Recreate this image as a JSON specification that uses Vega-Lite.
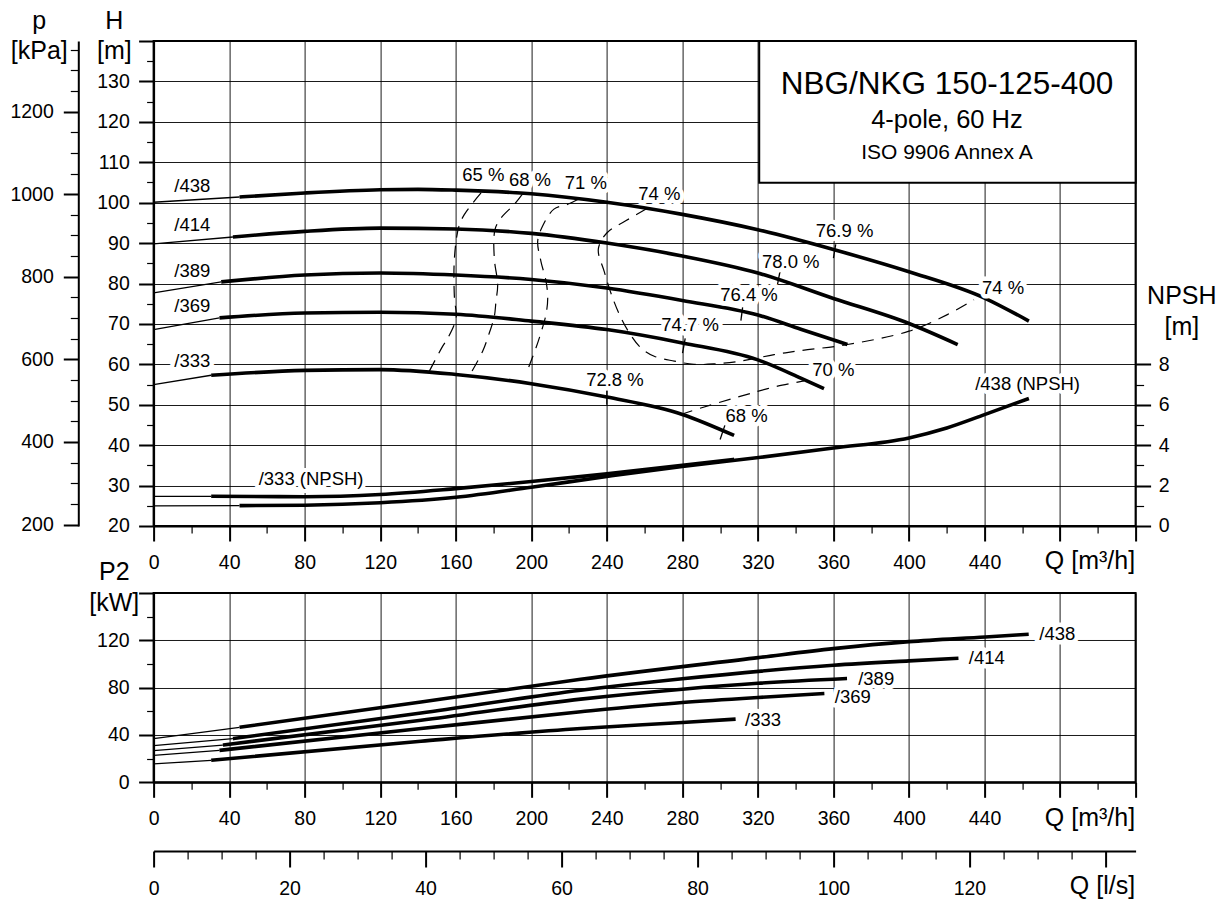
{
  "$schema": "https://vega.github.io/schema/vega-lite/v6.json",
  "background": "white",
  "padding": {"left": 8.6, "top": 7, "right": 5, "bottom": 2},
  "bounds": "flush",
  "spacing": 67,
  "config": {
    "font": "Liberation Sans",
    "view": {"stroke": "black", "strokeWidth": 2},
    "axis": {
      "labelFont": "Liberation Sans", "labelFontSize": 19.5, "labelColor": "black",
      "titleFont": "Liberation Sans", "titleFontSize": 25, "titleFontWeight": "normal", "titleColor": "black",
      "domainColor": "black", "domainWidth": 2, "tickColor": "black", "gridColor": "#000", "gridWidth": 1,
      "labelFlush": false, "labelOverlap": false, "labelBound": false
    },
    "text": {"font": "Liberation Sans", "fontSize": 18.5, "color": "black"}
  },
  "datasets": {
    "hq": [
      {"c": "438", "s": "thin", "Q": 0, "H": 100.1}, {"c": "438", "s": "thin", "Q": 45.5, "H": 101.4},
      {"c": "438", "s": "thick", "Q": 45.5, "H": 101.4}, {"c": "438", "s": "thick", "Q": 80, "H": 102.4}, {"c": "438", "s": "thick", "Q": 120, "H": 103.2}, {"c": "438", "s": "thick", "Q": 140, "H": 103.3}, {"c": "438", "s": "thick", "Q": 160, "H": 103.1}, {"c": "438", "s": "thick", "Q": 200, "H": 102.2}, {"c": "438", "s": "thick", "Q": 240, "H": 100.1}, {"c": "438", "s": "thick", "Q": 280, "H": 97.1}, {"c": "438", "s": "thick", "Q": 320, "H": 93.3}, {"c": "438", "s": "thick", "Q": 360, "H": 88.4}, {"c": "438", "s": "thick", "Q": 400, "H": 82.9}, {"c": "438", "s": "thick", "Q": 440, "H": 76.4}, {"c": "438", "s": "thick", "Q": 463.5, "H": 70.7},
      {"c": "414", "s": "thin", "Q": 0, "H": 89.8}, {"c": "414", "s": "thin", "Q": 42, "H": 91.5},
      {"c": "414", "s": "thick", "Q": 42, "H": 91.5}, {"c": "414", "s": "thick", "Q": 80, "H": 92.9}, {"c": "414", "s": "thick", "Q": 120, "H": 93.7}, {"c": "414", "s": "thick", "Q": 160, "H": 93.5}, {"c": "414", "s": "thick", "Q": 200, "H": 92.4}, {"c": "414", "s": "thick", "Q": 240, "H": 90.0}, {"c": "414", "s": "thick", "Q": 280, "H": 86.8}, {"c": "414", "s": "thick", "Q": 320, "H": 82.6}, {"c": "414", "s": "thick", "Q": 360, "H": 76.3}, {"c": "414", "s": "thick", "Q": 400, "H": 70.1}, {"c": "414", "s": "thick", "Q": 425.8, "H": 64.9},
      {"c": "389", "s": "thin", "Q": 0, "H": 77.7}, {"c": "389", "s": "thin", "Q": 35.8, "H": 80.4},
      {"c": "389", "s": "thick", "Q": 35.8, "H": 80.4}, {"c": "389", "s": "thick", "Q": 80, "H": 82.1}, {"c": "389", "s": "thick", "Q": 120, "H": 82.6}, {"c": "389", "s": "thick", "Q": 160, "H": 82.1}, {"c": "389", "s": "thick", "Q": 200, "H": 81.0}, {"c": "389", "s": "thick", "Q": 240, "H": 78.9}, {"c": "389", "s": "thick", "Q": 280, "H": 75.8}, {"c": "389", "s": "thick", "Q": 320, "H": 72.2}, {"c": "389", "s": "thick", "Q": 342.7, "H": 68.7}, {"c": "389", "s": "thick", "Q": 367.4, "H": 64.9},
      {"c": "369", "s": "thin", "Q": 0, "H": 68.6}, {"c": "369", "s": "thin", "Q": 34.9, "H": 71.5},
      {"c": "369", "s": "thick", "Q": 34.9, "H": 71.5}, {"c": "369", "s": "thick", "Q": 80, "H": 72.7}, {"c": "369", "s": "thick", "Q": 120, "H": 72.9}, {"c": "369", "s": "thick", "Q": 160, "H": 72.4}, {"c": "369", "s": "thick", "Q": 200, "H": 70.7}, {"c": "369", "s": "thick", "Q": 240, "H": 68.6}, {"c": "369", "s": "thick", "Q": 280, "H": 65.3}, {"c": "369", "s": "thick", "Q": 320, "H": 61.1}, {"c": "369", "s": "thick", "Q": 342.7, "H": 56.6}, {"c": "369", "s": "thick", "Q": 355, "H": 54.0},
      {"c": "333", "s": "thin", "Q": 0, "H": 55.0}, {"c": "333", "s": "thin", "Q": 30.5, "H": 57.3},
      {"c": "333", "s": "thick", "Q": 30.5, "H": 57.3}, {"c": "333", "s": "thick", "Q": 80, "H": 58.5}, {"c": "333", "s": "thick", "Q": 120, "H": 58.7}, {"c": "333", "s": "thick", "Q": 160, "H": 57.5}, {"c": "333", "s": "thick", "Q": 200, "H": 55.2}, {"c": "333", "s": "thick", "Q": 240, "H": 51.9}, {"c": "333", "s": "thick", "Q": 280, "H": 47.6}, {"c": "333", "s": "thick", "Q": 307.4, "H": 42.4}
    ],
    "eff": [
      {"e": "65", "i": 1, "Q": 173.4, "H": 102.4}, {"e": "65", "i": 2, "Q": 169.0, "H": 99.9}, {"e": "65", "i": 3, "Q": 164.6, "H": 97.1}, {"e": "65", "i": 4, "Q": 161.7, "H": 94.2}, {"e": "65", "i": 5, "Q": 159.3, "H": 86.3}, {"e": "65", "i": 6, "Q": 159.3, "H": 76.4}, {"e": "65", "i": 7, "Q": 160.2, "H": 71.5}, {"e": "65", "i": 8, "Q": 155.8, "H": 66.5}, {"e": "65", "i": 9, "Q": 153.1, "H": 64.5}, {"e": "65", "i": 10, "Q": 146.0, "H": 58.3},
      {"e": "68", "i": 1, "Q": 195.4, "H": 102.2}, {"e": "68", "i": 2, "Q": 191.0, "H": 99.6}, {"e": "68", "i": 3, "Q": 184.0, "H": 96.2}, {"e": "68", "i": 4, "Q": 180.8, "H": 93.4}, {"e": "68", "i": 5, "Q": 180.4, "H": 86.3}, {"e": "68", "i": 6, "Q": 182.2, "H": 79.7}, {"e": "68", "i": 7, "Q": 181.3, "H": 75.6}, {"e": "68", "i": 8, "Q": 180.4, "H": 71.8}, {"e": "68", "i": 9, "Q": 177.8, "H": 67.8}, {"e": "68", "i": 10, "Q": 174.3, "H": 63.3}, {"e": "68", "i": 11, "Q": 168.1, "H": 57.9},
      {"e": "71", "i": 1, "Q": 224.6, "H": 100.8}, {"e": "71", "i": 2, "Q": 219.3, "H": 99.6}, {"e": "71", "i": 3, "Q": 212.0, "H": 98.4}, {"e": "71", "i": 4, "Q": 206.0, "H": 94.2}, {"e": "71", "i": 5, "Q": 203.4, "H": 90.5}, {"e": "71", "i": 6, "Q": 205.1, "H": 85.5}, {"e": "71", "i": 7, "Q": 207.8, "H": 80.6}, {"e": "71", "i": 8, "Q": 208.7, "H": 76.4}, {"e": "71", "i": 9, "Q": 207.8, "H": 72.4}, {"e": "71", "i": 10, "Q": 205.1, "H": 67.8}, {"e": "71", "i": 11, "Q": 202.5, "H": 64.1}, {"e": "71", "i": 12, "Q": 198.1, "H": 58.7},
      {"e": "74", "i": 1, "Q": 261.0, "H": 98.5}, {"e": "74", "i": 2, "Q": 250.0, "H": 95.5}, {"e": "74", "i": 3, "Q": 240.0, "H": 92.5}, {"e": "74", "i": 4, "Q": 235.5, "H": 88.5}, {"e": "74", "i": 5, "Q": 238.6, "H": 83.0}, {"e": "74", "i": 6, "Q": 243.1, "H": 76.4}, {"e": "74", "i": 7, "Q": 247.5, "H": 71.5}, {"e": "74", "i": 8, "Q": 251.9, "H": 67.8}, {"e": "74", "i": 9, "Q": 258.0, "H": 64.1}, {"e": "74", "i": 10, "Q": 265.1, "H": 62.0}, {"e": "74", "i": 11, "Q": 275.7, "H": 60.8}, {"e": "74", "i": 12, "Q": 286.2, "H": 60.0}, {"e": "74", "i": 13, "Q": 296.8, "H": 60.1}, {"e": "74", "i": 14, "Q": 310.9, "H": 60.8}, {"e": "74", "i": 15, "Q": 328.6, "H": 62.4}, {"e": "74", "i": 16, "Q": 342.7, "H": 63.4}, {"e": "74", "i": 17, "Q": 367.4, "H": 64.9}, {"e": "74", "i": 18, "Q": 400.0, "H": 68.2}, {"e": "74", "i": 19, "Q": 420.3, "H": 72.3}, {"e": "74", "i": 20, "Q": 434.4, "H": 76.0},
      {"e": "70", "i": 1, "Q": 279.2, "H": 47.6}, {"e": "70", "i": 2, "Q": 289.8, "H": 49.2}, {"e": "70", "i": 3, "Q": 305.7, "H": 51.4}, {"e": "70", "i": 4, "Q": 319.8, "H": 53.3}, {"e": "70", "i": 5, "Q": 330.4, "H": 54.6}, {"e": "70", "i": 6, "Q": 344.4, "H": 55.9}
    ],
    "tick": [
      {"b": "72.8", "i": 1, "Q": 240.0, "H": 53.6}, {"b": "72.8", "i": 2, "Q": 240.0, "H": 50.0},
      {"b": "74.7", "i": 1, "Q": 281.5, "H": 66.4}, {"b": "74.7", "i": 2, "Q": 280.1, "H": 62.8},
      {"b": "76.4", "i": 1, "Q": 311.9, "H": 74.1}, {"b": "76.4", "i": 2, "Q": 311.0, "H": 70.8},
      {"b": "78.0", "i": 1, "Q": 331.7, "H": 83.0}, {"b": "78.0", "i": 2, "Q": 330.4, "H": 79.8},
      {"b": "76.9", "i": 1, "Q": 361.2, "H": 89.7}, {"b": "76.9", "i": 2, "Q": 360.0, "H": 86.3},
      {"b": "68", "i": 1, "Q": 302.5, "H": 44.9}, {"b": "68", "i": 2, "Q": 300.0, "H": 41.4}
    ],
    "effLab": [
      {"t": "65 %", "Q": 174.6, "H": 106.8}, {"t": "68 %", "Q": 199.3, "H": 105.7}, {"t": "71 %", "Q": 228.9, "H": 104.9}, {"t": "74 %", "Q": 267.8, "H": 102.2},
      {"t": "76.9 %", "Q": 365.9, "H": 92.9}, {"t": "78.0 %", "Q": 337.4, "H": 85.3}, {"t": "76.4 %", "Q": 315.3, "H": 77.1}, {"t": "74.7 %", "Q": 284.1, "H": 69.7},
      {"t": "72.8 %", "Q": 244.3, "H": 56.2}, {"t": "68 %", "Q": 314.0, "H": 47.2}, {"t": "70 %", "Q": 359.9, "H": 58.5}, {"t": "74 %", "Q": 449.8, "H": 78.9}
    ],
    "curveLab": [
      {"t": "/438", "Q": 11, "H": 104.1}, {"t": "/414", "Q": 11, "H": 94.4}, {"t": "/389", "Q": 11, "H": 83.2}, {"t": "/369", "Q": 11, "H": 74.4}, {"t": "/333", "Q": 11, "H": 60.9}
    ],
    "npsh": [
      {"c": "333", "s": "thin", "Q": 0, "N": 1.47}, {"c": "333", "s": "thin", "Q": 30.5, "N": 1.47},
      {"c": "333", "s": "thick", "Q": 30.5, "N": 1.47}, {"c": "333", "s": "thick", "Q": 80, "N": 1.45}, {"c": "333", "s": "thick", "Q": 120, "N": 1.56}, {"c": "333", "s": "thick", "Q": 160, "N": 1.85}, {"c": "333", "s": "thick", "Q": 200, "N": 2.2}, {"c": "333", "s": "thick", "Q": 240, "N": 2.58}, {"c": "333", "s": "thick", "Q": 280, "N": 3.0}, {"c": "333", "s": "thick", "Q": 307.4, "N": 3.3},
      {"c": "438", "s": "thin", "Q": 0, "N": 1.0}, {"c": "438", "s": "thin", "Q": 45.5, "N": 1.01},
      {"c": "438", "s": "thick", "Q": 45.5, "N": 1.01}, {"c": "438", "s": "thick", "Q": 80, "N": 1.03}, {"c": "438", "s": "thick", "Q": 120, "N": 1.15}, {"c": "438", "s": "thick", "Q": 160, "N": 1.42}, {"c": "438", "s": "thick", "Q": 200, "N": 1.92}, {"c": "438", "s": "thick", "Q": 240, "N": 2.45}, {"c": "438", "s": "thick", "Q": 280, "N": 2.95}, {"c": "438", "s": "thick", "Q": 321.5, "N": 3.40}, {"c": "438", "s": "thick", "Q": 360, "N": 3.86}, {"c": "438", "s": "thick", "Q": 400, "N": 4.36}, {"c": "438", "s": "thick", "Q": 420, "N": 4.85}, {"c": "438", "s": "thick", "Q": 440, "N": 5.51}, {"c": "438", "s": "thick", "Q": 463.5, "N": 6.31}
    ],
    "npshLab": [
      {"t": "/333 (NPSH)", "Q": 83.4, "N": 2.32}, {"t": "/438 (NPSH)", "Q": 462.8, "N": 7.01}
    ],
    "p2": [
      {"c": "438", "s": "thin", "Q": 0, "P": 36.9}, {"c": "438", "s": "thin", "Q": 45.5, "P": 46.5},
      {"c": "438", "s": "thick", "Q": 45.5, "P": 46.5}, {"c": "438", "s": "thick", "Q": 141.6, "P": 67.9}, {"c": "438", "s": "thick", "Q": 226.2, "P": 87.1}, {"c": "438", "s": "thick", "Q": 320.2, "P": 105.4}, {"c": "438", "s": "thick", "Q": 360, "P": 113.0}, {"c": "438", "s": "thick", "Q": 400, "P": 118.9}, {"c": "438", "s": "thick", "Q": 440.4, "P": 122.8}, {"c": "438", "s": "thick", "Q": 463.4, "P": 125.1},
      {"c": "414", "s": "thin", "Q": 0, "P": 31.0}, {"c": "414", "s": "thin", "Q": 42, "P": 36.9},
      {"c": "414", "s": "thick", "Q": 42, "P": 36.9}, {"c": "414", "s": "thick", "Q": 141.6, "P": 58.6}, {"c": "414", "s": "thick", "Q": 226.2, "P": 77.8}, {"c": "414", "s": "thick", "Q": 280, "P": 87.5}, {"c": "414", "s": "thick", "Q": 360, "P": 98.9}, {"c": "414", "s": "thick", "Q": 400, "P": 102.6}, {"c": "414", "s": "thick", "Q": 426.2, "P": 104.8},
      {"c": "389", "s": "thin", "Q": 0, "P": 26.8}, {"c": "389", "s": "thin", "Q": 36.7, "P": 31.5},
      {"c": "389", "s": "thick", "Q": 36.7, "P": 31.5}, {"c": "389", "s": "thick", "Q": 141.6, "P": 52.4}, {"c": "389", "s": "thick", "Q": 226.2, "P": 70.3}, {"c": "389", "s": "thick", "Q": 280, "P": 78.7}, {"c": "389", "s": "thick", "Q": 320, "P": 83.7}, {"c": "389", "s": "thick", "Q": 367.2, "P": 87.7},
      {"c": "369", "s": "thin", "Q": 0, "P": 22.8}, {"c": "369", "s": "thin", "Q": 34.9, "P": 27.0},
      {"c": "369", "s": "thick", "Q": 34.9, "P": 27.0}, {"c": "369", "s": "thick", "Q": 141.6, "P": 45.4}, {"c": "369", "s": "thick", "Q": 226.2, "P": 59.6}, {"c": "369", "s": "thick", "Q": 280, "P": 67.4}, {"c": "369", "s": "thick", "Q": 320, "P": 71.7}, {"c": "369", "s": "thick", "Q": 355.2, "P": 75.0},
      {"c": "333", "s": "thin", "Q": 0, "P": 15.5}, {"c": "333", "s": "thin", "Q": 30.5, "P": 18.6},
      {"c": "333", "s": "thick", "Q": 30.5, "P": 18.6}, {"c": "333", "s": "thick", "Q": 141.6, "P": 34.7}, {"c": "333", "s": "thick", "Q": 226.2, "P": 45.5}, {"c": "333", "s": "thick", "Q": 280, "P": 50.6}, {"c": "333", "s": "thick", "Q": 308.2, "P": 53.4}
    ],
    "p2Lab": [
      {"t": "/438", "Q": 469.0, "P": 125.1}, {"t": "/414", "Q": 431.7, "P": 104.8}, {"t": "/389", "Q": 373.1, "P": 87.7}, {"t": "/369", "Q": 360.7, "P": 72.2}, {"t": "/333", "Q": 313.2, "P": 52.8}
    ]
  },
  "vconcat": [
    {
      "width": 982,
      "height": 485,
      "resolve": {"scale": {"x": "independent", "y": "independent"}},
      "layer": [
        {
          "data": {"values": [{}]},
          "mark": {"type": "rect", "fill": "white", "stroke": "black", "strokeWidth": 2},
          "encoding": {
            "x": {"datum": 320.7, "type": "quantitative", "scale": {"domain": [0, 520], "nice": false, "zero": false}, "axis": null},
            "x2": {"datum": 520},
            "y": {"datum": 104.9, "type": "quantitative", "scale": {"domain": [20, 140], "nice": false, "zero": false}, "axis": null},
            "y2": {"datum": 140}
          }
        },
        {
          "data": {"name": "eff"},
          "mark": {"type": "line", "strokeDash": [12, 8], "strokeWidth": 1.2, "interpolate": "catmull-rom", "color": "black"},
          "encoding": {
            "x": {"field": "Q", "type": "quantitative", "scale": {"domain": [0, 520], "nice": false, "zero": false}, "axis": null},
            "y": {"field": "H", "type": "quantitative", "scale": {"domain": [20, 140], "nice": false, "zero": false}, "axis": null},
            "detail": {"field": "e", "type": "nominal"},
            "order": {"field": "i", "type": "quantitative"}
          }
        },
        {
          "data": {"name": "tick"},
          "mark": {"type": "line", "strokeWidth": 1.3, "color": "black"},
          "encoding": {
            "x": {"field": "Q", "type": "quantitative", "scale": {"domain": [0, 520], "nice": false, "zero": false}, "axis": null},
            "y": {"field": "H", "type": "quantitative", "scale": {"domain": [20, 140], "nice": false, "zero": false}, "axis": null},
            "detail": {"field": "b", "type": "nominal"},
            "order": {"field": "i", "type": "quantitative"}
          }
        },
        {
          "data": {"name": "hq"},
          "mark": {"type": "line", "interpolate": "monotone", "color": "black"},
          "encoding": {
            "x": {
              "field": "Q", "type": "quantitative",
              "scale": {"domain": [0, 520], "nice": false, "zero": false},
              "axis": {
                "orient": "bottom",
                "values": [0,20,40,60,80,100,120,140,160,180,200,220,240,260,280,300,320,340,360,380,400,420,440,460,480,500,520],
                "labelExpr": "datum.value % 40 == 0 && datum.value <= 440 ? datum.label : ''",
                "tickSize": {"condition": {"test": "datum.value % 40 != 0", "value": 7}, "value": 15},
                "tickWidth": {"condition": {"test": "datum.value % 40 != 0", "value": 1.2}, "value": 2},
                "grid": true,
                "gridOpacity": {"condition": {"test": "datum.value % 40 != 0", "value": 0}, "value": 0.9},
                "labelPadding": 12.5,
                "title": "Q [m³/h]", "titleAngle": 0, "titleAlign": "right", "titleBaseline": "alphabetic", "titleX": 981, "titleY": 43
              }
            },
            "y": {
              "field": "H", "type": "quantitative",
              "scale": {"domain": [20, 140], "nice": false, "zero": false},
              "axis": {
                "orient": "left",
                "values": [20,25,30,35,40,45,50,55,60,65,70,75,80,85,90,95,100,105,110,115,120,125,130,135,140],
                "labelExpr": "datum.value % 10 == 0 && datum.value < 140 ? datum.label : ''",
                "tickSize": {"condition": {"test": "datum.value % 10 != 0", "value": 7}, "value": 15},
                "tickWidth": {"condition": {"test": "datum.value % 10 != 0", "value": 1.2}, "value": 2},
                "grid": true,
                "gridOpacity": {"condition": {"test": "datum.value % 10 != 0", "value": 0}, "value": 0.9},
                "labelPadding": 9.3,
                "title": ["H", "[m]"], "titleAngle": 0, "titleAlign": "center", "titleBaseline": "alphabetic",
                "titleX": -39.8, "titleY": -12.7, "titleLineHeight": 30
              }
            },
            "detail": {"field": "c", "type": "nominal"},
            "strokeWidth": {"field": "s", "type": "ordinal", "scale": {"domain": ["thin", "thick"], "range": [1.3, 3.6]}, "legend": null}
          }
        },
        {
          "data": {"name": "effLab"},
          "mark": {"type": "text", "fill": "white", "stroke": "white", "strokeWidth": 9, "strokeJoin": "round", "fontSize": 18.5},
          "encoding": {
            "x": {"field": "Q", "type": "quantitative", "scale": {"domain": [0, 520], "nice": false, "zero": false}, "axis": null},
            "y": {"field": "H", "type": "quantitative", "scale": {"domain": [20, 140], "nice": false, "zero": false}, "axis": null},
            "text": {"field": "t"}
          }
        },
        {
          "data": {"name": "effLab"},
          "mark": {"type": "text", "fill": "black", "fontSize": 18.5},
          "encoding": {
            "x": {"field": "Q", "type": "quantitative", "scale": {"domain": [0, 520], "nice": false, "zero": false}, "axis": null},
            "y": {"field": "H", "type": "quantitative", "scale": {"domain": [20, 140], "nice": false, "zero": false}, "axis": null},
            "text": {"field": "t"}
          }
        },
        {
          "data": {"name": "curveLab"},
          "mark": {"type": "text", "fill": "white", "stroke": "white", "strokeWidth": 9, "strokeJoin": "round", "fontSize": 18.5, "align": "left"},
          "encoding": {
            "x": {"field": "Q", "type": "quantitative", "scale": {"domain": [0, 520], "nice": false, "zero": false}, "axis": null},
            "y": {"field": "H", "type": "quantitative", "scale": {"domain": [20, 140], "nice": false, "zero": false}, "axis": null},
            "text": {"field": "t"}
          }
        },
        {
          "data": {"name": "curveLab"},
          "mark": {"type": "text", "fill": "black", "fontSize": 18.5, "align": "left"},
          "encoding": {
            "x": {"field": "Q", "type": "quantitative", "scale": {"domain": [0, 520], "nice": false, "zero": false}, "axis": null},
            "y": {"field": "H", "type": "quantitative", "scale": {"domain": [20, 140], "nice": false, "zero": false}, "axis": null},
            "text": {"field": "t"}
          }
        },
        {
          "data": {"values": [{}]},
          "mark": {"type": "text", "fontSize": 31.5, "baseline": "alphabetic", "align": "center", "fill": "black"},
          "encoding": {
            "x": {"datum": 420.1, "type": "quantitative", "scale": {"domain": [0, 520], "nice": false, "zero": false}, "axis": null},
            "y": {"datum": 126.9, "type": "quantitative", "scale": {"domain": [20, 140], "nice": false, "zero": false}, "axis": null},
            "text": {"value": "NBG/NKG 150-125-400"}
          }
        },
        {
          "data": {"values": [{}]},
          "mark": {"type": "text", "fontSize": 25.5, "baseline": "alphabetic", "align": "center", "fill": "black"},
          "encoding": {
            "x": {"datum": 420.1, "type": "quantitative", "scale": {"domain": [0, 520], "nice": false, "zero": false}, "axis": null},
            "y": {"datum": 118.5, "type": "quantitative", "scale": {"domain": [20, 140], "nice": false, "zero": false}, "axis": null},
            "text": {"value": "4-pole, 60 Hz"}
          }
        },
        {
          "data": {"values": [{}]},
          "mark": {"type": "text", "fontSize": 21, "baseline": "alphabetic", "align": "center", "fill": "black"},
          "encoding": {
            "x": {"datum": 420.1, "type": "quantitative", "scale": {"domain": [0, 520], "nice": false, "zero": false}, "axis": null},
            "y": {"datum": 110.7, "type": "quantitative", "scale": {"domain": [20, 140], "nice": false, "zero": false}, "axis": null},
            "text": {"value": "ISO 9906 Annex A"}
          }
        },
        {
          "data": {"values": [{}]},
          "mark": {"type": "point", "opacity": 0},
          "encoding": {
            "y": {
              "datum": 500, "type": "quantitative",
              "scale": {"domain": [196.4, 1371], "nice": false, "zero": false},
              "axis": {
                "orient": "left", "offset": 75.3,
                "values": [200,250,300,350,400,450,500,550,600,650,700,750,800,850,900,950,1000,1050,1100,1150,1200,1250,1300,1350],
                "format": "d",
                "labelExpr": "datum.value % 200 == 0 ? datum.label : ''",
                "tickSize": {"condition": {"test": "datum.value % 200 != 0", "value": 8}, "value": 15},
                "tickWidth": {"condition": {"test": "datum.value % 200 != 0", "value": 1.2}, "value": 2},
                "grid": false,
                "labelPadding": 10,
                "title": ["p", "[kPa]"], "titleAngle": 0, "titleAlign": "center", "titleBaseline": "alphabetic",
                "titleX": -39.5, "titleY": -12.7, "titleLineHeight": 30
              }
            }
          }
        },
        {
          "data": {"name": "npsh"},
          "mark": {"type": "line", "interpolate": "monotone", "color": "black"},
          "encoding": {
            "x": {"field": "Q", "type": "quantitative", "scale": {"domain": [0, 520], "nice": false, "zero": false}, "axis": null},
            "y": {
              "field": "N", "type": "quantitative",
              "scale": {"domain": [0, 24], "nice": false, "zero": false},
              "axis": {
                "orient": "right",
                "values": [0,1,2,3,4,5,6,7,8],
                "labelExpr": "datum.value % 2 == 0 ? datum.label : ''",
                "tickSize": {"condition": {"test": "datum.value % 2 != 0", "value": 8}, "value": 15},
                "tickWidth": {"condition": {"test": "datum.value % 2 != 0", "value": 1.2}, "value": 2},
                "grid": false, "domain": false,
                "labelPadding": 7.7,
                "title": ["NPSH", "[m]"], "titleAngle": 0, "titleAlign": "center", "titleBaseline": "alphabetic",
                "titleX": 45.7, "titleY": 262, "titleLineHeight": 32
              }
            },
            "detail": {"field": "c", "type": "nominal"},
            "strokeWidth": {"field": "s", "type": "ordinal", "scale": {"domain": ["thin", "thick"], "range": [1.3, 3.6]}, "legend": null}
          }
        },
        {
          "data": {"name": "npshLab"},
          "mark": {"type": "text", "fill": "white", "stroke": "white", "strokeWidth": 8, "strokeJoin": "round", "fontSize": 18.5},
          "encoding": {
            "x": {"field": "Q", "type": "quantitative", "scale": {"domain": [0, 520], "nice": false, "zero": false}, "axis": null},
            "y": {"field": "N", "type": "quantitative", "scale": {"domain": [0, 24], "nice": false, "zero": false}, "axis": null},
            "text": {"field": "t"}
          }
        },
        {
          "data": {"name": "npshLab"},
          "mark": {"type": "text", "fill": "black", "fontSize": 18.5},
          "encoding": {
            "x": {"field": "Q", "type": "quantitative", "scale": {"domain": [0, 520], "nice": false, "zero": false}, "axis": null},
            "y": {"field": "N", "type": "quantitative", "scale": {"domain": [0, 24], "nice": false, "zero": false}, "axis": null},
            "text": {"field": "t"}
          }
        }
      ]
    },
    {
      "width": 982,
      "height": 189.3,
      "encoding": {
        "x": {
          "field": "Q", "type": "quantitative",
          "scale": {"domain": [0, 520], "nice": false, "zero": false},
          "axis": {
            "values": [0,20,40,60,80,100,120,140,160,180,200,220,240,260,280,300,320,340,360,380,400,420,440,460,480,500,520],
            "labelExpr": "datum.value % 40 == 0 && datum.value <= 440 ? datum.label : ''",
            "tickSize": {"condition": {"test": "datum.value % 40 != 0", "value": 7}, "value": 15},
            "tickWidth": {"condition": {"test": "datum.value % 40 != 0", "value": 1.2}, "value": 2},
            "grid": true,
            "gridOpacity": {"condition": {"test": "datum.value % 40 != 0", "value": 0}, "value": 0.9},
            "labelPadding": 12.5,
            "title": "Q [m³/h]", "titleAngle": 0, "titleAlign": "right", "titleBaseline": "alphabetic", "titleX": 981, "titleY": 43
          }
        },
        "y": {
          "field": "P", "type": "quantitative",
          "scale": {"domain": [0, 160], "nice": false, "zero": false},
          "axis": {
            "values": [0,20,40,60,80,100,120,140,160],
            "labelExpr": "datum.value % 40 == 0 && datum.value < 160 ? datum.label : ''",
            "tickSize": {"condition": {"test": "datum.value % 40 != 0", "value": 7}, "value": 15},
            "tickWidth": {"condition": {"test": "datum.value % 40 != 0", "value": 1.2}, "value": 2},
            "grid": true,
            "gridOpacity": {"condition": {"test": "datum.value % 40 != 0", "value": 0}, "value": 0.9},
            "labelPadding": 9.5,
            "title": ["P2", "[kW]"], "titleAngle": 0, "titleAlign": "center", "titleBaseline": "alphabetic",
            "titleX": -39.8, "titleY": -13.7, "titleLineHeight": 31
          }
        }
      },
      "layer": [
        {
          "data": {"name": "p2"},
          "mark": {"type": "line", "interpolate": "monotone", "color": "black"},
          "encoding": {
            "detail": {"field": "c", "type": "nominal"},
            "strokeWidth": {"field": "s", "type": "ordinal", "scale": {"domain": ["thin", "thick"], "range": [1.3, 3.6]}, "legend": null}
          }
        },
        {
          "data": {"name": "p2Lab"},
          "mark": {"type": "text", "fill": "white", "stroke": "white", "strokeWidth": 9, "strokeJoin": "round", "fontSize": 18.5, "align": "left"},
          "encoding": {"text": {"field": "t"}}
        },
        {
          "data": {"name": "p2Lab"},
          "mark": {"type": "text", "fill": "black", "fontSize": 18.5, "align": "left"},
          "encoding": {"text": {"field": "t"}}
        }
      ]
    },
    {
      "width": 982,
      "height": 1,
      "view": {"stroke": null},
      "data": {"values": [{}]},
      "mark": {"type": "point", "opacity": 0},
      "encoding": {
        "x": {
          "datum": 0, "type": "quantitative",
          "scale": {"domain": [0, 144.444], "nice": false, "zero": false},
          "axis": {
            "values": [0,5,10,15,20,25,30,35,40,45,50,55,60,65,70,75,80,85,90,95,100,105,110,115,120,125,130,135,140],
            "labelExpr": "datum.value % 20 == 0 && datum.value <= 120 ? datum.label : ''",
            "tickSize": {"condition": {"test": "datum.value % 20 != 0", "value": 8}, "value": 16},
            "tickWidth": {"condition": {"test": "datum.value % 20 != 0", "value": 1.2}, "value": 2},
            "grid": false,
            "labelPadding": 12.5,
            "title": "Q [l/s]", "titleAngle": 0, "titleAlign": "right", "titleBaseline": "alphabetic", "titleX": 981, "titleY": 43
          }
        }
      }
    }
  ]
}
